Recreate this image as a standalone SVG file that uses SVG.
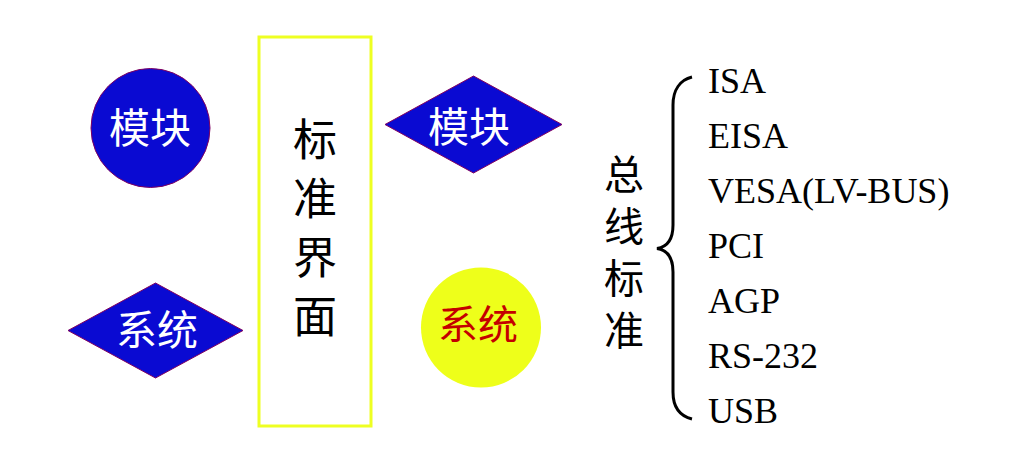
<svg xmlns="http://www.w3.org/2000/svg" width="1024" height="461" viewBox="0 0 1024 461">
<style>
.blue{fill:#0a0ad2;stroke:#800060;stroke-width:1}
.wt{fill:#ffffff;font-family:"Noto Sans CJK SC",sans-serif;font-size:41px;text-anchor:middle}
.vt{fill:#000000;font-family:"Noto Sans CJK SC",sans-serif;writing-mode:vertical-rl;text-orientation:upright}
.bus{fill:#000000;font-family:"Liberation Serif","Times New Roman",serif;font-size:36px}
</style>
<rect width="1024" height="461" fill="#ffffff"/>
<g id="module-circle">
<circle class="blue" cx="150.5" cy="128" r="59.5"/>
<text class="wt" x="150" y="143">模块</text>
</g>
<g id="system-diamond">
<polygon class="blue" points="68,330.5 155.5,283 243,330.5 155.5,378"/>
<text class="wt" x="157" y="345">系统</text>
</g>
<g id="standard-interface">
<rect x="259" y="37" width="112" height="389" fill="none" stroke="#eeff22" stroke-width="3"/>
<text class="vt" font-size="44" letter-spacing="15" x="315" y="117">标准界面</text>
</g>
<g id="module-diamond">
<polygon class="blue" points="385,124.5 473.5,76 562,124.5 473.5,173"/>
<text class="wt" x="469" y="142">模块</text>
</g>
<g id="system-circle">
<circle cx="481" cy="327.5" r="60" fill="#eeff1a"/>
<text x="478" y="339" font-family="Noto Sans CJK SC, sans-serif" font-size="40" text-anchor="middle" fill="#c40000">系统</text>
</g>
<g id="bus-standards">
<text class="vt" font-size="40" letter-spacing="12" x="624" y="154">总线标准</text>
<text class="bus" x="708" y="93">ISA</text>
<text class="bus" x="708" y="148">EISA</text>
<text class="bus" x="708" y="203">VESA(LV-BUS)</text>
<text class="bus" x="708" y="258">PCI</text>
<text class="bus" x="708" y="313">AGP</text>
<text class="bus" x="708" y="368">RS-232</text>
<text class="bus" x="708" y="423">USB</text>
</g>
<g id="connectors">
<path d="M692,77 C680,80 673,90 673,105 L673,225 C673,240 667,247 657,248.5 C667,250 673,257 673,272 L673,392 C673,407 680,416 692,419" fill="none" stroke="#000000" stroke-width="3"/>
</g>
</svg>
